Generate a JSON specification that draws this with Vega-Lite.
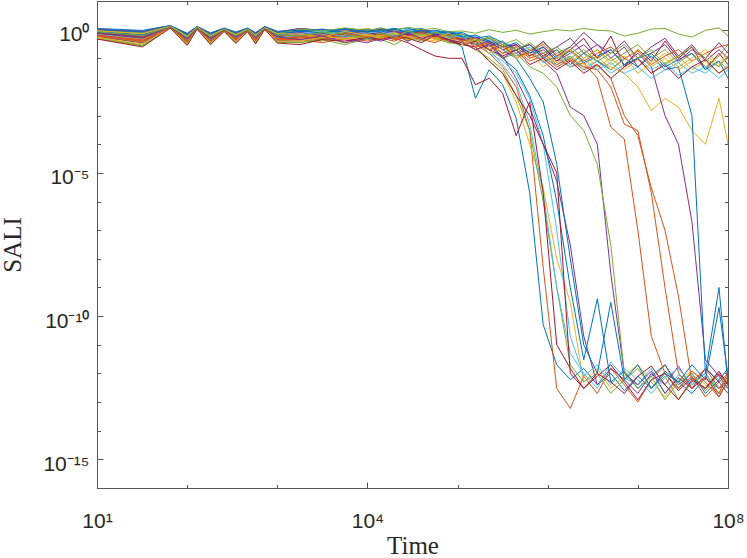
{
  "$schema": "https://vega.github.io/schema/vega-lite/v6.json",
  "description": "SALI against time for many orbits, log-log, MATLAB style.",
  "width": 631,
  "height": 487,
  "autosize": {"type": "none"},
  "padding": {"left": 97, "top": 1, "right": 19, "bottom": 70},
  "background": "white",
  "config": {
    "view": {"stroke": null},
    "axis": {"domainColor": "#555555", "tickColor": "#555555", "domainWidth": 1, "tickWidth": 1, "grid": false}
  },
  "data": {"values": [
{"s":1,"t":10,"v":1.0},{"s":1,"t":32,"v":0.85},{"s":1,"t":65,"v":1.35},{"s":1,"t":100,"v":0.68},{"s":1,"t":129,"v":1.25},{"s":1,"t":182,"v":0.7},{"s":1,"t":257,"v":1.1},{"s":1,"t":347,"v":0.75},{"s":1,"t":468,"v":1.1},{"s":1,"t":575,"v":0.72},{"s":1,"t":724,"v":1.25},{"s":1,"t":1000,"v":0.8},{"s":1,"t":1778,"v":0.95},{"s":1,"t":3162,"v":0.8},{"s":1,"t":5623,"v":1.1},{"s":1,"t":1e4,"v":0.9},{"s":1,"t":1.41e4,"v":1.15},{"s":1,"t":2e4,"v":0.8},{"s":1,"t":2.82e4,"v":1.0},{"s":1,"t":3.98e4,"v":0.65},{"s":1,"t":5.62e4,"v":0.85},{"s":1,"t":7.94e4,"v":0.5},{"s":1,"t":1.12e5,"v":0.25},{"s":1,"t":1.58e5,"v":0.004},{"s":1,"t":2.24e5,"v":0.04},{"s":1,"t":3.16e5,"v":0.012},{"s":1,"t":4.47e5,"v":0.0008},{"s":1,"t":6.31e5,"v":2e-6},{"s":1,"t":8.91e5,"v":5e-11},{"s":1,"t":1.26e6,"v":2e-12},{"s":1,"t":1.78e6,"v":6e-13},{"s":1,"t":2.51e6,"v":1.5e-12},{"s":1,"t":3.55e6,"v":4e-13},{"s":1,"t":5.01e6,"v":1e-12},{"s":1,"t":7.08e6,"v":2.5e-13},{"s":1,"t":1e7,"v":8e-13},{"s":1,"t":1.41e7,"v":3e-13},{"s":1,"t":2e7,"v":1.2e-12},{"s":1,"t":2.82e7,"v":5e-13},{"s":1,"t":3.98e7,"v":2e-13},{"s":1,"t":5.62e7,"v":7e-13},{"s":1,"t":7.94e7,"v":3e-13},{"s":1,"t":1e8,"v":5e-13},
{"s":2,"t":10,"v":0.76},{"s":2,"t":32,"v":0.55},{"s":2,"t":65,"v":1.25},{"s":2,"t":100,"v":0.48},{"s":2,"t":129,"v":1.15},{"s":2,"t":182,"v":0.5},{"s":2,"t":257,"v":0.97},{"s":2,"t":347,"v":0.55},{"s":2,"t":468,"v":0.96},{"s":2,"t":575,"v":0.52},{"s":2,"t":724,"v":1.12},{"s":2,"t":1000,"v":0.58},{"s":2,"t":1778,"v":0.6},{"s":2,"t":3162,"v":0.75},{"s":2,"t":5623,"v":0.55},{"s":2,"t":1e4,"v":0.8},{"s":2,"t":1.41e4,"v":0.7},{"s":2,"t":2e4,"v":0.95},{"s":2,"t":2.82e4,"v":0.6},{"s":2,"t":3.98e4,"v":0.85},{"s":2,"t":5.62e4,"v":0.45},{"s":2,"t":7.94e4,"v":0.7},{"s":2,"t":1.12e5,"v":0.5},{"s":2,"t":1.58e5,"v":0.3},{"s":2,"t":2.24e5,"v":0.15},{"s":2,"t":3.16e5,"v":0.05},{"s":2,"t":4.47e5,"v":0.01},{"s":2,"t":6.31e5,"v":3e-4},{"s":2,"t":8.91e5,"v":5e-9},{"s":2,"t":1.26e6,"v":3e-13},{"s":2,"t":1.78e6,"v":6e-14},{"s":2,"t":2.51e6,"v":8e-13},{"s":2,"t":3.55e6,"v":2e-13},{"s":2,"t":5.01e6,"v":1.5e-12},{"s":2,"t":7.08e6,"v":4e-13},{"s":2,"t":1e7,"v":1e-13},{"s":2,"t":1.41e7,"v":6e-13},{"s":2,"t":2e7,"v":2e-12},{"s":2,"t":2.82e7,"v":3e-13},{"s":2,"t":3.98e7,"v":8e-13},{"s":2,"t":5.62e7,"v":1.5e-13},{"s":2,"t":7.94e7,"v":5e-13},{"s":2,"t":1e8,"v":1e-12},
{"s":3,"t":10,"v":0.52},{"s":3,"t":32,"v":0.28},{"s":3,"t":65,"v":1.18},{"s":3,"t":100,"v":0.31},{"s":3,"t":129,"v":1.08},{"s":3,"t":182,"v":0.33},{"s":3,"t":257,"v":0.9},{"s":3,"t":347,"v":0.37},{"s":3,"t":468,"v":0.88},{"s":3,"t":575,"v":0.35},{"s":3,"t":724,"v":1.05},{"s":3,"t":1000,"v":0.38},{"s":3,"t":1778,"v":0.4},{"s":3,"t":3162,"v":0.5},{"s":3,"t":5623,"v":0.35},{"s":3,"t":1e4,"v":0.55},{"s":3,"t":1.41e4,"v":0.6},{"s":3,"t":2e4,"v":0.45},{"s":3,"t":2.82e4,"v":0.7},{"s":3,"t":3.98e4,"v":0.5},{"s":3,"t":5.62e4,"v":0.4},{"s":3,"t":7.94e4,"v":0.55},{"s":3,"t":1.12e5,"v":0.3},{"s":3,"t":1.58e5,"v":0.25},{"s":3,"t":2.24e5,"v":0.08},{"s":3,"t":3.16e5,"v":0.03},{"s":3,"t":4.47e5,"v":0.003},{"s":3,"t":6.31e5,"v":1e-4},{"s":3,"t":8.91e5,"v":3e-6},{"s":3,"t":1.26e6,"v":1e-8},{"s":3,"t":1.78e6,"v":3e-10},{"s":3,"t":2.51e6,"v":5e-13},{"s":3,"t":3.55e6,"v":1.5e-12},{"s":3,"t":5.01e6,"v":3e-13},{"s":3,"t":7.08e6,"v":8e-13},{"s":3,"t":1e7,"v":2e-12},{"s":3,"t":1.41e7,"v":5e-13},{"s":3,"t":2e7,"v":1.5e-13},{"s":3,"t":2.82e7,"v":6e-13},{"s":3,"t":3.98e7,"v":1.2e-12},{"s":3,"t":5.62e7,"v":4e-13},{"s":3,"t":7.94e7,"v":2e-13},{"s":3,"t":1e8,"v":7e-13},
{"s":4,"t":10,"v":0.84},{"s":4,"t":32,"v":0.65},{"s":4,"t":65,"v":1.28},{"s":4,"t":100,"v":0.54},{"s":4,"t":129,"v":1.18},{"s":4,"t":182,"v":0.56},{"s":4,"t":257,"v":1.0},{"s":4,"t":347,"v":0.61},{"s":4,"t":468,"v":1.0},{"s":4,"t":575,"v":0.58},{"s":4,"t":724,"v":1.16},{"s":4,"t":1000,"v":0.65},{"s":4,"t":1778,"v":0.9},{"s":4,"t":3162,"v":0.7},{"s":4,"t":5623,"v":0.95},{"s":4,"t":1e4,"v":0.75},{"s":4,"t":1.41e4,"v":0.85},{"s":4,"t":2e4,"v":1.1},{"s":4,"t":2.82e4,"v":0.7},{"s":4,"t":3.98e4,"v":0.9},{"s":4,"t":5.62e4,"v":0.6},{"s":4,"t":7.94e4,"v":0.75},{"s":4,"t":1.12e5,"v":0.55},{"s":4,"t":1.58e5,"v":0.35},{"s":4,"t":2.24e5,"v":0.3},{"s":4,"t":3.16e5,"v":0.12},{"s":4,"t":4.47e5,"v":0.02},{"s":4,"t":6.31e5,"v":0.002},{"s":4,"t":8.91e5,"v":1e-4},{"s":4,"t":1.26e6,"v":5e-6},{"s":4,"t":1.78e6,"v":3e-8},{"s":4,"t":2.51e6,"v":2e-11},{"s":4,"t":3.55e6,"v":4e-13},{"s":4,"t":5.01e6,"v":1.5e-12},{"s":4,"t":7.08e6,"v":6e-13},{"s":4,"t":1e7,"v":2e-13},{"s":4,"t":1.41e7,"v":1e-12},{"s":4,"t":2e7,"v":4e-13},{"s":4,"t":2.82e7,"v":1.8e-12},{"s":4,"t":3.98e7,"v":3e-13},{"s":4,"t":5.62e7,"v":8e-13},{"s":4,"t":7.94e7,"v":1.5e-13},{"s":4,"t":1e8,"v":6e-13},
{"s":5,"t":10,"v":0.6},{"s":5,"t":32,"v":0.36},{"s":5,"t":65,"v":1.2},{"s":5,"t":100,"v":0.36},{"s":5,"t":129,"v":1.1},{"s":5,"t":182,"v":0.38},{"s":5,"t":257,"v":0.92},{"s":5,"t":347,"v":0.43},{"s":5,"t":468,"v":0.9},{"s":5,"t":575,"v":0.4},{"s":5,"t":724,"v":1.07},{"s":5,"t":1000,"v":0.44},{"s":5,"t":1778,"v":0.45},{"s":5,"t":3162,"v":0.4},{"s":5,"t":5623,"v":0.6},{"s":5,"t":1e4,"v":0.5},{"s":5,"t":1.41e4,"v":0.55},{"s":5,"t":2e4,"v":0.7},{"s":5,"t":2.82e4,"v":0.4},{"s":5,"t":3.98e4,"v":0.6},{"s":5,"t":5.62e4,"v":0.5},{"s":5,"t":7.94e4,"v":0.35},{"s":5,"t":1.12e5,"v":0.4},{"s":5,"t":1.58e5,"v":0.2},{"s":5,"t":2.24e5,"v":0.1},{"s":5,"t":3.16e5,"v":0.04},{"s":5,"t":4.47e5,"v":0.005},{"s":5,"t":6.31e5,"v":3e-4},{"s":5,"t":8.91e5,"v":1e-6},{"s":5,"t":1.26e6,"v":1e-9},{"s":5,"t":1.78e6,"v":2e-12},{"s":5,"t":2.51e6,"v":5e-13},{"s":5,"t":3.55e6,"v":1e-12},{"s":5,"t":5.01e6,"v":2e-13},{"s":5,"t":7.08e6,"v":6e-13},{"s":5,"t":1e7,"v":1.5e-12},{"s":5,"t":1.41e7,"v":3e-13},{"s":5,"t":2e7,"v":8e-13},{"s":5,"t":2.82e7,"v":1.2e-13},{"s":5,"t":3.98e7,"v":5e-13},{"s":5,"t":5.62e7,"v":1e-12},{"s":5,"t":7.94e7,"v":2e-13},{"s":5,"t":1e8,"v":4e-13},
{"s":6,"t":10,"v":0.92},{"s":6,"t":32,"v":0.75},{"s":6,"t":65,"v":1.3},{"s":6,"t":100,"v":0.6},{"s":6,"t":129,"v":1.2},{"s":6,"t":182,"v":0.62},{"s":6,"t":257,"v":1.05},{"s":6,"t":347,"v":0.68},{"s":6,"t":468,"v":1.05},{"s":6,"t":575,"v":0.65},{"s":6,"t":724,"v":1.2},{"s":6,"t":1000,"v":0.72},{"s":6,"t":1778,"v":1.0},{"s":6,"t":3162,"v":0.85},{"s":6,"t":5623,"v":0.7},{"s":6,"t":1e4,"v":0.95},{"s":6,"t":1.41e4,"v":0.9},{"s":6,"t":2e4,"v":0.75},{"s":6,"t":2.82e4,"v":1.05},{"s":6,"t":3.98e4,"v":0.8},{"s":6,"t":5.62e4,"v":0.9},{"s":6,"t":7.94e4,"v":0.6},{"s":6,"t":1.12e5,"v":0.4},{"s":6,"t":1.58e5,"v":0.5},{"s":6,"t":2.24e5,"v":0.2},{"s":6,"t":3.16e5,"v":0.06},{"s":6,"t":4.47e5,"v":0.015},{"s":6,"t":6.31e5,"v":5e-4},{"s":6,"t":8.91e5,"v":2e-6},{"s":6,"t":1.26e6,"v":1e-9},{"s":6,"t":1.78e6,"v":5e-12},{"s":6,"t":2.51e6,"v":1e-12},{"s":6,"t":3.55e6,"v":3e-13},{"s":6,"t":5.01e6,"v":2.5e-12},{"s":6,"t":7.08e6,"v":7e-13},{"s":6,"t":1e7,"v":4e-13},{"s":6,"t":1.41e7,"v":1.5e-12},{"s":6,"t":2e7,"v":2e-13},{"s":6,"t":2.82e7,"v":9e-13},{"s":6,"t":3.98e7,"v":4e-13},{"s":6,"t":5.62e7,"v":1.5e-12},{"s":6,"t":7.94e7,"v":6e-13},{"s":6,"t":1e8,"v":3e-13},
{"s":7,"t":10,"v":0.68},{"s":7,"t":32,"v":0.45},{"s":7,"t":65,"v":1.22},{"s":7,"t":100,"v":0.42},{"s":7,"t":129,"v":1.12},{"s":7,"t":182,"v":0.44},{"s":7,"t":257,"v":0.94},{"s":7,"t":347,"v":0.49},{"s":7,"t":468,"v":0.93},{"s":7,"t":575,"v":0.46},{"s":7,"t":724,"v":1.1},{"s":7,"t":1000,"v":0.51},{"s":7,"t":1778,"v":0.65},{"s":7,"t":3162,"v":0.5},{"s":7,"t":5623,"v":0.8},{"s":7,"t":1e4,"v":0.6},{"s":7,"t":1.41e4,"v":0.7},{"s":7,"t":2e4,"v":0.5},{"s":7,"t":2.82e4,"v":0.35},{"s":7,"t":3.98e4,"v":0.2},{"s":7,"t":5.62e4,"v":0.12},{"s":7,"t":7.94e4,"v":0.1},{"s":7,"t":1.12e5,"v":0.1},{"s":7,"t":1.58e5,"v":0.012},{"s":7,"t":2.24e5,"v":0.02},{"s":7,"t":3.16e5,"v":0.006},{"s":7,"t":4.47e5,"v":2e-4},{"s":7,"t":6.31e5,"v":0.003},{"s":7,"t":8.91e5,"v":2e-6},{"s":7,"t":1.26e6,"v":1e-11},{"s":7,"t":1.78e6,"v":1.5e-12},{"s":7,"t":2.51e6,"v":3e-13},{"s":7,"t":3.55e6,"v":8e-13},{"s":7,"t":5.01e6,"v":2e-12},{"s":7,"t":7.08e6,"v":5e-13},{"s":7,"t":1e7,"v":1.2e-13},{"s":7,"t":1.41e7,"v":6e-13},{"s":7,"t":2e7,"v":1e-12},{"s":7,"t":2.82e7,"v":2.5e-13},{"s":7,"t":3.98e7,"v":7e-13},{"s":7,"t":5.62e7,"v":3e-13},{"s":7,"t":7.94e7,"v":1.2e-12},{"s":7,"t":1e8,"v":4e-13},
{"s":8,"t":10,"v":0.95},{"s":8,"t":32,"v":0.81},{"s":8,"t":65,"v":1.32},{"s":8,"t":100,"v":0.65},{"s":8,"t":129,"v":1.23},{"s":8,"t":182,"v":0.67},{"s":8,"t":257,"v":1.08},{"s":8,"t":347,"v":0.71},{"s":8,"t":468,"v":1.08},{"s":8,"t":575,"v":0.68},{"s":8,"t":724,"v":1.23},{"s":8,"t":1000,"v":0.76},{"s":8,"t":1778,"v":1.1},{"s":8,"t":3162,"v":0.9},{"s":8,"t":5623,"v":0.8},{"s":8,"t":1e4,"v":1.05},{"s":8,"t":1.41e4,"v":0.95},{"s":8,"t":2e4,"v":1.1},{"s":8,"t":2.82e4,"v":0.85},{"s":8,"t":3.98e4,"v":0.7},{"s":8,"t":5.62e4,"v":0.95},{"s":8,"t":7.94e4,"v":0.8},{"s":8,"t":1.12e5,"v":0.6},{"s":8,"t":1.58e5,"v":0.3},{"s":8,"t":2.24e5,"v":0.35},{"s":8,"t":3.16e5,"v":0.1},{"s":8,"t":4.47e5,"v":0.04},{"s":8,"t":6.31e5,"v":0.005},{"s":8,"t":8.91e5,"v":2e-4},{"s":8,"t":1.26e6,"v":1e-6},{"s":8,"t":1.78e6,"v":1e-9},{"s":8,"t":2.51e6,"v":3e-12},{"s":8,"t":3.55e6,"v":4e-10},{"s":8,"t":5.01e6,"v":5e-13},{"s":8,"t":7.08e6,"v":1.2e-12},{"s":8,"t":1e7,"v":3e-13},{"s":8,"t":1.41e7,"v":8e-13},{"s":8,"t":2e7,"v":2e-12},{"s":8,"t":2.82e7,"v":4e-13},{"s":8,"t":3.98e7,"v":1e-12},{"s":8,"t":5.62e7,"v":2e-13},{"s":8,"t":7.94e7,"v":6e-13},{"s":8,"t":1e8,"v":1.5e-12},
{"s":9,"t":10,"v":0.65},{"s":9,"t":32,"v":0.43},{"s":9,"t":65,"v":1.2},{"s":9,"t":100,"v":0.4},{"s":9,"t":129,"v":1.1},{"s":9,"t":182,"v":0.42},{"s":9,"t":257,"v":0.92},{"s":9,"t":347,"v":0.47},{"s":9,"t":468,"v":0.91},{"s":9,"t":575,"v":0.44},{"s":9,"t":724,"v":1.08},{"s":9,"t":1000,"v":0.48},{"s":9,"t":1778,"v":0.55},{"s":9,"t":3162,"v":0.7},{"s":9,"t":5623,"v":0.5},{"s":9,"t":1e4,"v":0.65},{"s":9,"t":1.41e4,"v":0.8},{"s":9,"t":2e4,"v":0.6},{"s":9,"t":2.82e4,"v":0.9},{"s":9,"t":3.98e4,"v":0.55},{"s":9,"t":5.62e4,"v":0.7},{"s":9,"t":7.94e4,"v":0.5},{"s":9,"t":1.12e5,"v":0.45},{"s":9,"t":1.58e5,"v":0.3},{"s":9,"t":2.24e5,"v":0.2},{"s":9,"t":3.16e5,"v":0.25},{"s":9,"t":4.47e5,"v":0.12},{"s":9,"t":6.31e5,"v":0.15},{"s":9,"t":8.91e5,"v":0.08},{"s":9,"t":1.26e6,"v":0.1},{"s":9,"t":1.78e6,"v":0.05},{"s":9,"t":2.51e6,"v":0.07},{"s":9,"t":3.55e6,"v":0.02},{"s":9,"t":5.01e6,"v":4e-4},{"s":9,"t":7.08e6,"v":1.5e-4},{"s":9,"t":1e7,"v":1e-7},{"s":9,"t":1.41e7,"v":2e-11},{"s":9,"t":2e7,"v":1e-12},{"s":9,"t":2.82e7,"v":3e-13},{"s":9,"t":3.98e7,"v":1.2e-12},{"s":9,"t":5.62e7,"v":5e-13},{"s":9,"t":7.94e7,"v":1.5e-13},{"s":9,"t":1e8,"v":6e-13},
{"s":10,"t":10,"v":0.87},{"s":10,"t":32,"v":0.71},{"s":10,"t":65,"v":1.27},{"s":10,"t":100,"v":0.57},{"s":10,"t":129,"v":1.18},{"s":10,"t":182,"v":0.59},{"s":10,"t":257,"v":1.03},{"s":10,"t":347,"v":0.65},{"s":10,"t":468,"v":1.03},{"s":10,"t":575,"v":0.62},{"s":10,"t":724,"v":1.18},{"s":10,"t":1000,"v":0.68},{"s":10,"t":1778,"v":1.0},{"s":10,"t":3162,"v":0.8},{"s":10,"t":5623,"v":0.9},{"s":10,"t":1e4,"v":1.1},{"s":10,"t":1.41e4,"v":0.85},{"s":10,"t":2e4,"v":1.0},{"s":10,"t":2.82e4,"v":0.75},{"s":10,"t":3.98e4,"v":0.95},{"s":10,"t":5.62e4,"v":0.8},{"s":10,"t":7.94e4,"v":0.6},{"s":10,"t":1.12e5,"v":0.55},{"s":10,"t":1.58e5,"v":0.5},{"s":10,"t":2.24e5,"v":0.35},{"s":10,"t":3.16e5,"v":0.4},{"s":10,"t":4.47e5,"v":0.2},{"s":10,"t":6.31e5,"v":0.3},{"s":10,"t":8.91e5,"v":0.12},{"s":10,"t":1.26e6,"v":0.2},{"s":10,"t":1.78e6,"v":0.08},{"s":10,"t":2.51e6,"v":0.15},{"s":10,"t":3.55e6,"v":0.05},{"s":10,"t":5.01e6,"v":0.1},{"s":10,"t":7.08e6,"v":0.04},{"s":10,"t":1e7,"v":0.09},{"s":10,"t":1.41e7,"v":0.03},{"s":10,"t":2e7,"v":0.07},{"s":10,"t":2.82e7,"v":0.12},{"s":10,"t":3.98e7,"v":0.04},{"s":10,"t":5.62e7,"v":0.08},{"s":10,"t":7.94e7,"v":0.03},{"s":10,"t":1e8,"v":0.06},
{"s":11,"t":10,"v":0.57},{"s":11,"t":32,"v":0.34},{"s":11,"t":65,"v":1.18},{"s":11,"t":100,"v":0.34},{"s":11,"t":129,"v":1.08},{"s":11,"t":182,"v":0.36},{"s":11,"t":257,"v":0.9},{"s":11,"t":347,"v":0.41},{"s":11,"t":468,"v":0.88},{"s":11,"t":575,"v":0.38},{"s":11,"t":724,"v":1.05},{"s":11,"t":1000,"v":0.42},{"s":11,"t":1778,"v":0.4},{"s":11,"t":3162,"v":0.55},{"s":11,"t":5623,"v":0.45},{"s":11,"t":1e4,"v":0.35},{"s":11,"t":1.41e4,"v":0.5},{"s":11,"t":2e4,"v":0.65},{"s":11,"t":2.82e4,"v":0.4},{"s":11,"t":3.98e4,"v":0.75},{"s":11,"t":5.62e4,"v":0.55},{"s":11,"t":7.94e4,"v":0.45},{"s":11,"t":1.12e5,"v":0.6},{"s":11,"t":1.58e5,"v":0.35},{"s":11,"t":2.24e5,"v":0.25},{"s":11,"t":3.16e5,"v":0.4},{"s":11,"t":4.47e5,"v":0.15},{"s":11,"t":6.31e5,"v":0.2},{"s":11,"t":8.91e5,"v":0.08},{"s":11,"t":1.26e6,"v":0.03},{"s":11,"t":1.78e6,"v":0.002},{"s":11,"t":2.51e6,"v":0.001},{"s":11,"t":3.55e6,"v":1e-4},{"s":11,"t":5.01e6,"v":3e-9},{"s":11,"t":7.08e6,"v":1e-12},{"s":11,"t":1e7,"v":4e-13},{"s":11,"t":1.41e7,"v":1.2e-12},{"s":11,"t":2e7,"v":2e-13},{"s":11,"t":2.82e7,"v":7e-13},{"s":11,"t":3.98e7,"v":3e-13},{"s":11,"t":5.62e7,"v":1.5e-12},{"s":11,"t":7.94e7,"v":5e-13},{"s":11,"t":1e8,"v":2e-13},
{"s":12,"t":10,"v":0.49},{"s":12,"t":32,"v":0.27},{"s":12,"t":65,"v":1.16},{"s":12,"t":100,"v":0.29},{"s":12,"t":129,"v":1.06},{"s":12,"t":182,"v":0.31},{"s":12,"t":257,"v":0.88},{"s":12,"t":347,"v":0.35},{"s":12,"t":468,"v":0.86},{"s":12,"t":575,"v":0.33},{"s":12,"t":724,"v":1.03},{"s":12,"t":1000,"v":0.36},{"s":12,"t":1778,"v":0.35},{"s":12,"t":3162,"v":0.45},{"s":12,"t":5623,"v":0.3},{"s":12,"t":1e4,"v":0.5},{"s":12,"t":1.41e4,"v":0.45},{"s":12,"t":2e4,"v":0.3},{"s":12,"t":2.82e4,"v":0.55},{"s":12,"t":3.98e4,"v":0.4},{"s":12,"t":5.62e4,"v":0.6},{"s":12,"t":7.94e4,"v":0.35},{"s":12,"t":1.12e5,"v":0.3},{"s":12,"t":1.58e5,"v":0.4},{"s":12,"t":2.24e5,"v":0.2},{"s":12,"t":3.16e5,"v":0.1},{"s":12,"t":4.47e5,"v":0.15},{"s":12,"t":6.31e5,"v":0.05},{"s":12,"t":8.91e5,"v":0.03},{"s":12,"t":1.26e6,"v":0.01},{"s":12,"t":1.78e6,"v":0.001},{"s":12,"t":2.51e6,"v":3e-4},{"s":12,"t":3.55e6,"v":2e-5},{"s":12,"t":5.01e6,"v":3e-8},{"s":12,"t":7.08e6,"v":1e-12},{"s":12,"t":1e7,"v":3e-13},{"s":12,"t":1.41e7,"v":8e-13},{"s":12,"t":2e7,"v":1.2e-13},{"s":12,"t":2.82e7,"v":5e-13},{"s":12,"t":3.98e7,"v":1e-12},{"s":12,"t":5.62e7,"v":2.5e-13},{"s":12,"t":7.94e7,"v":9e-13},{"s":12,"t":1e8,"v":3e-13},
{"s":13,"t":10,"v":0.8},{"s":13,"t":32,"v":0.62},{"s":13,"t":65,"v":1.25},{"s":13,"t":100,"v":0.51},{"s":13,"t":129,"v":1.16},{"s":13,"t":182,"v":0.53},{"s":13,"t":257,"v":0.98},{"s":13,"t":347,"v":0.58},{"s":13,"t":468,"v":0.98},{"s":13,"t":575,"v":0.55},{"s":13,"t":724,"v":1.14},{"s":13,"t":1000,"v":0.62},{"s":13,"t":1778,"v":0.8},{"s":13,"t":3162,"v":0.65},{"s":13,"t":5623,"v":0.9},{"s":13,"t":1e4,"v":0.7},{"s":13,"t":1.41e4,"v":0.75},{"s":13,"t":2e4,"v":0.9},{"s":13,"t":2.82e4,"v":0.6},{"s":13,"t":3.98e4,"v":0.8},{"s":13,"t":5.62e4,"v":0.7},{"s":13,"t":7.94e4,"v":0.5},{"s":13,"t":1.12e5,"v":0.35},{"s":13,"t":1.58e5,"v":0.4},{"s":13,"t":2.24e5,"v":0.15},{"s":13,"t":3.16e5,"v":0.08},{"s":13,"t":4.47e5,"v":0.03},{"s":13,"t":6.31e5,"v":0.004},{"s":13,"t":8.91e5,"v":1e-4},{"s":13,"t":1.26e6,"v":1e-7},{"s":13,"t":1.78e6,"v":2e-11},{"s":13,"t":2.51e6,"v":8e-13},{"s":13,"t":3.55e6,"v":2e-12},{"s":13,"t":5.01e6,"v":4e-13},{"s":13,"t":7.08e6,"v":1.5e-12},{"s":13,"t":1e7,"v":6e-13},{"s":13,"t":1.41e7,"v":2e-13},{"s":13,"t":2e7,"v":7e-13},{"s":13,"t":2.82e7,"v":1.5e-12},{"s":13,"t":3.98e7,"v":4e-13},{"s":13,"t":5.62e7,"v":1e-12},{"s":13,"t":7.94e7,"v":3e-13},{"s":13,"t":1e8,"v":8e-13},
{"s":14,"t":10,"v":0.72},{"s":14,"t":32,"v":0.52},{"s":14,"t":65,"v":1.23},{"s":14,"t":100,"v":0.46},{"s":14,"t":129,"v":1.13},{"s":14,"t":182,"v":0.48},{"s":14,"t":257,"v":0.95},{"s":14,"t":347,"v":0.52},{"s":14,"t":468,"v":0.94},{"s":14,"t":575,"v":0.49},{"s":14,"t":724,"v":1.1},{"s":14,"t":1000,"v":0.55},{"s":14,"t":1778,"v":0.7},{"s":14,"t":3162,"v":0.55},{"s":14,"t":5623,"v":0.6},{"s":14,"t":1e4,"v":0.8},{"s":14,"t":1.41e4,"v":0.6},{"s":14,"t":2e4,"v":0.8},{"s":14,"t":2.82e4,"v":0.65},{"s":14,"t":3.98e4,"v":0.45},{"s":14,"t":5.62e4,"v":0.7},{"s":14,"t":7.94e4,"v":0.4},{"s":14,"t":1.12e5,"v":0.3},{"s":14,"t":1.58e5,"v":0.25},{"s":14,"t":2.24e5,"v":0.08},{"s":14,"t":3.16e5,"v":0.03},{"s":14,"t":4.47e5,"v":0.005},{"s":14,"t":6.31e5,"v":0.001},{"s":14,"t":8.91e5,"v":1e-4},{"s":14,"t":1.26e6,"v":1e-5},{"s":14,"t":1.78e6,"v":1e-12},{"s":14,"t":2.51e6,"v":3e-13},{"s":14,"t":3.55e6,"v":1e-12},{"s":14,"t":5.01e6,"v":5e-13},{"s":14,"t":7.08e6,"v":2e-13},{"s":14,"t":1e7,"v":8e-13},{"s":14,"t":1.41e7,"v":1.8e-12},{"s":14,"t":2e7,"v":4e-13},{"s":14,"t":2.82e7,"v":1.2e-13},{"s":14,"t":3.98e7,"v":6e-13},{"s":14,"t":5.62e7,"v":3e-13},{"s":14,"t":7.94e7,"v":1e-12},{"s":14,"t":1e8,"v":4e-13},
{"s":15,"t":10,"v":0.97},{"s":15,"t":32,"v":0.79},{"s":15,"t":65,"v":1.33},{"s":15,"t":100,"v":0.63},{"s":15,"t":129,"v":1.22},{"s":15,"t":182,"v":0.65},{"s":15,"t":257,"v":1.07},{"s":15,"t":347,"v":0.71},{"s":15,"t":468,"v":1.07},{"s":15,"t":575,"v":0.68},{"s":15,"t":724,"v":1.22},{"s":15,"t":1000,"v":0.76},{"s":15,"t":1778,"v":0.85},{"s":15,"t":3162,"v":1.0},{"s":15,"t":5623,"v":0.75},{"s":15,"t":1e4,"v":0.9},{"s":15,"t":1.41e4,"v":1.0},{"s":15,"t":2e4,"v":0.8},{"s":15,"t":2.82e4,"v":0.95},{"s":15,"t":3.98e4,"v":1.1},{"s":15,"t":5.62e4,"v":0.75},{"s":15,"t":7.94e4,"v":0.85},{"s":15,"t":1.12e5,"v":0.7},{"s":15,"t":1.58e5,"v":0.5},{"s":15,"t":2.24e5,"v":0.4},{"s":15,"t":3.16e5,"v":0.2},{"s":15,"t":4.47e5,"v":0.1},{"s":15,"t":6.31e5,"v":0.02},{"s":15,"t":8.91e5,"v":0.003},{"s":15,"t":1.26e6,"v":2e-5},{"s":15,"t":1.78e6,"v":1e-8},{"s":15,"t":2.51e6,"v":1e-11},{"s":15,"t":3.55e6,"v":1e-12},{"s":15,"t":5.01e6,"v":3e-10},{"s":15,"t":7.08e6,"v":6e-13},{"s":15,"t":1e7,"v":2e-12},{"s":15,"t":1.41e7,"v":3e-13},{"s":15,"t":2e7,"v":1e-12},{"s":15,"t":2.82e7,"v":5e-13},{"s":15,"t":3.98e7,"v":2e-12},{"s":15,"t":5.62e7,"v":6e-13},{"s":15,"t":7.94e7,"v":2e-10},{"s":15,"t":1e8,"v":8e-13},
{"s":16,"t":10,"v":0.63},{"s":16,"t":32,"v":0.38},{"s":16,"t":65,"v":1.22},{"s":16,"t":100,"v":0.38},{"s":16,"t":129,"v":1.12},{"s":16,"t":182,"v":0.4},{"s":16,"t":257,"v":0.94},{"s":16,"t":347,"v":0.45},{"s":16,"t":468,"v":0.92},{"s":16,"t":575,"v":0.42},{"s":16,"t":724,"v":1.09},{"s":16,"t":1000,"v":0.46},{"s":16,"t":1778,"v":0.45},{"s":16,"t":3162,"v":0.35},{"s":16,"t":5623,"v":0.5},{"s":16,"t":1e4,"v":0.4},{"s":16,"t":1.41e4,"v":0.5},{"s":16,"t":2e4,"v":0.4},{"s":16,"t":2.82e4,"v":0.6},{"s":16,"t":3.98e4,"v":0.45},{"s":16,"t":5.62e4,"v":0.35},{"s":16,"t":7.94e4,"v":0.55},{"s":16,"t":1.12e5,"v":0.4},{"s":16,"t":1.58e5,"v":0.2},{"s":16,"t":2.24e5,"v":0.3},{"s":16,"t":3.16e5,"v":0.15},{"s":16,"t":4.47e5,"v":0.2},{"s":16,"t":6.31e5,"v":0.08},{"s":16,"t":8.91e5,"v":0.12},{"s":16,"t":1.26e6,"v":0.05},{"s":16,"t":1.78e6,"v":0.09},{"s":16,"t":2.51e6,"v":0.04},{"s":16,"t":3.55e6,"v":0.06},{"s":16,"t":5.01e6,"v":0.02},{"s":16,"t":7.08e6,"v":0.001},{"s":16,"t":1e7,"v":2e-4},{"s":16,"t":1.41e7,"v":3e-6},{"s":16,"t":2e7,"v":1e-7},{"s":16,"t":2.82e7,"v":5e-10},{"s":16,"t":3.98e7,"v":5e-13},{"s":16,"t":5.62e7,"v":1.5e-12},{"s":16,"t":7.94e7,"v":3e-13},{"s":16,"t":1e8,"v":8e-13},
{"s":17,"t":10,"v":0.71},{"s":17,"t":32,"v":0.47},{"s":17,"t":65,"v":1.24},{"s":17,"t":100,"v":0.44},{"s":17,"t":129,"v":1.14},{"s":17,"t":182,"v":0.46},{"s":17,"t":257,"v":0.96},{"s":17,"t":347,"v":0.51},{"s":17,"t":468,"v":0.95},{"s":17,"t":575,"v":0.48},{"s":17,"t":724,"v":1.12},{"s":17,"t":1000,"v":0.54},{"s":17,"t":1778,"v":0.5},{"s":17,"t":3162,"v":0.65},{"s":17,"t":5623,"v":0.45},{"s":17,"t":1e4,"v":0.6},{"s":17,"t":1.41e4,"v":0.65},{"s":17,"t":2e4,"v":0.5},{"s":17,"t":2.82e4,"v":0.8},{"s":17,"t":3.98e4,"v":0.6},{"s":17,"t":5.62e4,"v":0.45},{"s":17,"t":7.94e4,"v":0.65},{"s":17,"t":1.12e5,"v":0.5},{"s":17,"t":1.58e5,"v":0.35},{"s":17,"t":2.24e5,"v":0.4},{"s":17,"t":3.16e5,"v":0.2},{"s":17,"t":4.47e5,"v":0.25},{"s":17,"t":6.31e5,"v":0.1},{"s":17,"t":8.91e5,"v":0.15},{"s":17,"t":1.26e6,"v":0.07},{"s":17,"t":1.78e6,"v":0.12},{"s":17,"t":2.51e6,"v":0.05},{"s":17,"t":3.55e6,"v":0.08},{"s":17,"t":5.01e6,"v":0.05},{"s":17,"t":7.08e6,"v":0.03},{"s":17,"t":1e7,"v":0.01},{"s":17,"t":1.41e7,"v":0.0015},{"s":17,"t":2e7,"v":0.004},{"s":17,"t":2.82e7,"v":0.002},{"s":17,"t":3.98e7,"v":3e-4},{"s":17,"t":5.62e7,"v":1e-4},{"s":17,"t":7.94e7,"v":0.004},{"s":17,"t":1e8,"v":1e-4},
{"s":18,"t":10,"v":1.05},{"s":18,"t":32,"v":0.89},{"s":18,"t":65,"v":1.38},{"s":18,"t":100,"v":0.71},{"s":18,"t":129,"v":1.28},{"s":18,"t":182,"v":0.74},{"s":18,"t":257,"v":1.12},{"s":18,"t":347,"v":0.79},{"s":18,"t":468,"v":1.12},{"s":18,"t":575,"v":0.76},{"s":18,"t":724,"v":1.28},{"s":18,"t":1000,"v":0.84},{"s":18,"t":1778,"v":1.1},{"s":18,"t":3162,"v":0.95},{"s":18,"t":5623,"v":1.0},{"s":18,"t":1e4,"v":0.85},{"s":18,"t":1.41e4,"v":1.05},{"s":18,"t":2e4,"v":0.9},{"s":18,"t":2.82e4,"v":0.75},{"s":18,"t":3.98e4,"v":1.0},{"s":18,"t":5.62e4,"v":0.85},{"s":18,"t":7.94e4,"v":0.7},{"s":18,"t":1.12e5,"v":0.6},{"s":18,"t":1.58e5,"v":0.4},{"s":18,"t":2.24e5,"v":0.5},{"s":18,"t":3.16e5,"v":0.25},{"s":18,"t":4.47e5,"v":0.3},{"s":18,"t":6.31e5,"v":0.12},{"s":18,"t":8.91e5,"v":0.2},{"s":18,"t":1.26e6,"v":0.08},{"s":18,"t":1.78e6,"v":0.15},{"s":18,"t":2.51e6,"v":0.3},{"s":18,"t":3.55e6,"v":0.1},{"s":18,"t":5.01e6,"v":0.2},{"s":18,"t":7.08e6,"v":0.06},{"s":18,"t":1e7,"v":0.15},{"s":18,"t":1.41e7,"v":0.05},{"s":18,"t":2e7,"v":0.001},{"s":18,"t":2.82e7,"v":1e-4},{"s":18,"t":3.98e7,"v":2e-7},{"s":18,"t":5.62e7,"v":3e-12},{"s":18,"t":7.94e7,"v":8e-13},{"s":18,"t":1e8,"v":3e-13},
{"s":19,"t":10,"v":0.55},{"s":19,"t":32,"v":0.29},{"s":19,"t":65,"v":1.2},{"s":19,"t":100,"v":0.33},{"s":19,"t":129,"v":1.1},{"s":19,"t":182,"v":0.35},{"s":19,"t":257,"v":0.92},{"s":19,"t":347,"v":0.39},{"s":19,"t":468,"v":0.9},{"s":19,"t":575,"v":0.37},{"s":19,"t":724,"v":1.07},{"s":19,"t":1000,"v":0.4},{"s":19,"t":1778,"v":0.35},{"s":19,"t":3162,"v":0.5},{"s":19,"t":5623,"v":0.6},{"s":19,"t":1e4,"v":0.45},{"s":19,"t":1.41e4,"v":0.55},{"s":19,"t":2e4,"v":0.7},{"s":19,"t":2.82e4,"v":0.45},{"s":19,"t":3.98e4,"v":0.6},{"s":19,"t":5.62e4,"v":0.8},{"s":19,"t":7.94e4,"v":0.5},{"s":19,"t":1.12e5,"v":0.6},{"s":19,"t":1.58e5,"v":0.4},{"s":19,"t":2.24e5,"v":0.5},{"s":19,"t":3.16e5,"v":0.3},{"s":19,"t":4.47e5,"v":0.45},{"s":19,"t":6.31e5,"v":0.2},{"s":19,"t":8.91e5,"v":0.35},{"s":19,"t":1.26e6,"v":0.15},{"s":19,"t":1.78e6,"v":0.25},{"s":19,"t":2.51e6,"v":0.1},{"s":19,"t":3.55e6,"v":0.2},{"s":19,"t":5.01e6,"v":0.08},{"s":19,"t":7.08e6,"v":0.15},{"s":19,"t":1e7,"v":0.3},{"s":19,"t":1.41e7,"v":0.1},{"s":19,"t":2e7,"v":0.2},{"s":19,"t":2.82e7,"v":0.07},{"s":19,"t":3.98e7,"v":0.15},{"s":19,"t":5.62e7,"v":0.05},{"s":19,"t":7.94e7,"v":0.12},{"s":19,"t":1e8,"v":0.3},
{"s":20,"t":10,"v":0.88},{"s":20,"t":32,"v":0.68},{"s":20,"t":65,"v":1.31},{"s":20,"t":100,"v":0.57},{"s":20,"t":129,"v":1.2},{"s":20,"t":182,"v":0.59},{"s":20,"t":257,"v":1.02},{"s":20,"t":347,"v":0.64},{"s":20,"t":468,"v":1.02},{"s":20,"t":575,"v":0.61},{"s":20,"t":724,"v":1.18},{"s":20,"t":1000,"v":0.68},{"s":20,"t":1778,"v":0.75},{"s":20,"t":3162,"v":0.9},{"s":20,"t":5623,"v":0.65},{"s":20,"t":1e4,"v":0.85},{"s":20,"t":1.41e4,"v":0.7},{"s":20,"t":2e4,"v":0.85},{"s":20,"t":2.82e4,"v":1.0},{"s":20,"t":3.98e4,"v":0.75},{"s":20,"t":5.62e4,"v":0.6},{"s":20,"t":7.94e4,"v":0.8},{"s":20,"t":1.12e5,"v":0.5},{"s":20,"t":1.58e5,"v":0.6},{"s":20,"t":2.24e5,"v":0.3},{"s":20,"t":3.16e5,"v":0.4},{"s":20,"t":4.47e5,"v":0.15},{"s":20,"t":6.31e5,"v":0.25},{"s":20,"t":8.91e5,"v":0.1},{"s":20,"t":1.26e6,"v":0.06},{"s":20,"t":1.78e6,"v":0.12},{"s":20,"t":2.51e6,"v":0.04},{"s":20,"t":3.55e6,"v":0.08},{"s":20,"t":5.01e6,"v":0.03},{"s":20,"t":7.08e6,"v":0.06},{"s":20,"t":1e7,"v":0.1},{"s":20,"t":1.41e7,"v":0.04},{"s":20,"t":2e7,"v":0.07},{"s":20,"t":2.82e7,"v":0.025},{"s":20,"t":3.98e7,"v":0.05},{"s":20,"t":5.62e7,"v":0.03},{"s":20,"t":7.94e7,"v":0.08},{"s":20,"t":1e8,"v":0.04},
{"s":21,"t":10,"v":0.8},{"s":21,"t":32,"v":0.58},{"s":21,"t":65,"v":1.28},{"s":21,"t":100,"v":0.5},{"s":21,"t":129,"v":1.17},{"s":21,"t":182,"v":0.53},{"s":21,"t":257,"v":0.99},{"s":21,"t":347,"v":0.58},{"s":21,"t":468,"v":0.98},{"s":21,"t":575,"v":0.55},{"s":21,"t":724,"v":1.14},{"s":21,"t":1000,"v":0.61},{"s":21,"t":1778,"v":0.6},{"s":21,"t":3162,"v":0.75},{"s":21,"t":5623,"v":0.55},{"s":21,"t":1e4,"v":0.7},{"s":21,"t":1.41e4,"v":0.8},{"s":21,"t":2e4,"v":0.6},{"s":21,"t":2.82e4,"v":0.7},{"s":21,"t":3.98e4,"v":0.9},{"s":21,"t":5.62e4,"v":0.55},{"s":21,"t":7.94e4,"v":0.65},{"s":21,"t":1.12e5,"v":0.45},{"s":21,"t":1.58e5,"v":0.3},{"s":21,"t":2.24e5,"v":0.4},{"s":21,"t":3.16e5,"v":0.2},{"s":21,"t":4.47e5,"v":0.3},{"s":21,"t":6.31e5,"v":0.12},{"s":21,"t":8.91e5,"v":0.25},{"s":21,"t":1.26e6,"v":0.08},{"s":21,"t":1.78e6,"v":0.2},{"s":21,"t":2.51e6,"v":0.5},{"s":21,"t":3.55e6,"v":0.1},{"s":21,"t":5.01e6,"v":0.6},{"s":21,"t":7.08e6,"v":0.05},{"s":21,"t":1e7,"v":0.2},{"s":21,"t":1.41e7,"v":0.08},{"s":21,"t":2e7,"v":0.4},{"s":21,"t":2.82e7,"v":0.1},{"s":21,"t":3.98e7,"v":0.25},{"s":21,"t":5.62e7,"v":0.04},{"s":21,"t":7.94e7,"v":0.15},{"s":21,"t":1e8,"v":0.06},
{"s":22,"t":10,"v":0.83},{"s":22,"t":32,"v":0.68},{"s":22,"t":65,"v":1.26},{"s":22,"t":100,"v":0.54},{"s":22,"t":129,"v":1.16},{"s":22,"t":182,"v":0.56},{"s":22,"t":257,"v":1.02},{"s":22,"t":347,"v":0.61},{"s":22,"t":468,"v":1.02},{"s":22,"t":575,"v":0.59},{"s":22,"t":724,"v":1.16},{"s":22,"t":1000,"v":0.65},{"s":22,"t":1778,"v":0.9},{"s":22,"t":3162,"v":1.05},{"s":22,"t":5623,"v":0.8},{"s":22,"t":1e4,"v":1.0},{"s":22,"t":1.41e4,"v":0.85},{"s":22,"t":2e4,"v":1.0},{"s":22,"t":2.82e4,"v":1.15},{"s":22,"t":3.98e4,"v":0.8},{"s":22,"t":5.62e4,"v":0.95},{"s":22,"t":7.94e4,"v":0.7},{"s":22,"t":1.12e5,"v":0.8},{"s":22,"t":1.58e5,"v":0.5},{"s":22,"t":2.24e5,"v":0.6},{"s":22,"t":3.16e5,"v":0.35},{"s":22,"t":4.47e5,"v":0.2},{"s":22,"t":6.31e5,"v":0.3},{"s":22,"t":8.91e5,"v":0.1},{"s":22,"t":1.26e6,"v":0.2},{"s":22,"t":1.78e6,"v":0.06},{"s":22,"t":2.51e6,"v":0.15},{"s":22,"t":3.55e6,"v":0.08},{"s":22,"t":5.01e6,"v":0.04},{"s":22,"t":7.08e6,"v":0.1},{"s":22,"t":1e7,"v":0.05},{"s":22,"t":1.41e7,"v":0.12},{"s":22,"t":2e7,"v":0.04},{"s":22,"t":2.82e7,"v":0.05},{"s":22,"t":3.98e7,"v":0.001},{"s":22,"t":5.62e7,"v":1e-12},{"s":22,"t":7.94e7,"v":1e-9},{"s":22,"t":1e8,"v":4e-13},
{"s":23,"t":10,"v":0.61},{"s":23,"t":32,"v":0.41},{"s":23,"t":65,"v":1.18},{"s":23,"t":100,"v":0.38},{"s":23,"t":129,"v":1.09},{"s":23,"t":182,"v":0.4},{"s":23,"t":257,"v":0.91},{"s":23,"t":347,"v":0.44},{"s":23,"t":468,"v":0.9},{"s":23,"t":575,"v":0.41},{"s":23,"t":724,"v":1.07},{"s":23,"t":1000,"v":0.46},{"s":23,"t":1778,"v":0.55},{"s":23,"t":3162,"v":0.45},{"s":23,"t":5623,"v":0.7},{"s":23,"t":1e4,"v":0.5},{"s":23,"t":1.41e4,"v":0.65},{"s":23,"t":2e4,"v":0.45},{"s":23,"t":2.82e4,"v":0.55},{"s":23,"t":3.98e4,"v":0.75},{"s":23,"t":5.62e4,"v":0.6},{"s":23,"t":7.94e4,"v":0.4},{"s":23,"t":1.12e5,"v":0.5},{"s":23,"t":1.58e5,"v":0.25},{"s":23,"t":2.24e5,"v":0.35},{"s":23,"t":3.16e5,"v":0.15},{"s":23,"t":4.47e5,"v":0.25},{"s":23,"t":6.31e5,"v":0.1},{"s":23,"t":8.91e5,"v":0.15},{"s":23,"t":1.26e6,"v":0.06},{"s":23,"t":1.78e6,"v":0.1},{"s":23,"t":2.51e6,"v":0.05},{"s":23,"t":3.55e6,"v":0.04},{"s":23,"t":5.01e6,"v":0.01},{"s":23,"t":7.08e6,"v":5e-4},{"s":23,"t":1e7,"v":3e-4},{"s":23,"t":1.41e7,"v":2e-6},{"s":23,"t":2e7,"v":1e-9},{"s":23,"t":2.82e7,"v":1e-12},{"s":23,"t":3.98e7,"v":3e-13},{"s":23,"t":5.62e7,"v":7e-13},{"s":23,"t":7.94e7,"v":2e-13},{"s":23,"t":1e8,"v":1.2e-12},
{"s":24,"t":10,"v":0.54},{"s":24,"t":32,"v":0.32},{"s":24,"t":65,"v":1.16},{"s":24,"t":100,"v":0.32},{"s":24,"t":129,"v":1.07},{"s":24,"t":182,"v":0.34},{"s":24,"t":257,"v":0.89},{"s":24,"t":347,"v":0.39},{"s":24,"t":468,"v":0.87},{"s":24,"t":575,"v":0.36},{"s":24,"t":724,"v":1.04},{"s":24,"t":1000,"v":0.4},{"s":24,"t":1778,"v":0.4},{"s":24,"t":3162,"v":0.55},{"s":24,"t":5623,"v":0.5},{"s":24,"t":1e4,"v":0.65},{"s":24,"t":1.41e4,"v":0.5},{"s":24,"t":2e4,"v":0.7},{"s":24,"t":2.82e4,"v":0.45},{"s":24,"t":3.98e4,"v":0.6},{"s":24,"t":5.62e4,"v":0.75},{"s":24,"t":7.94e4,"v":0.5},{"s":24,"t":1.12e5,"v":0.35},{"s":24,"t":1.58e5,"v":0.5},{"s":24,"t":2.24e5,"v":0.25},{"s":24,"t":3.16e5,"v":0.3},{"s":24,"t":4.47e5,"v":0.12},{"s":24,"t":6.31e5,"v":0.2},{"s":24,"t":8.91e5,"v":0.08},{"s":24,"t":1.26e6,"v":0.15},{"s":24,"t":1.78e6,"v":0.05},{"s":24,"t":2.51e6,"v":0.1},{"s":24,"t":3.55e6,"v":0.2},{"s":24,"t":5.01e6,"v":0.06},{"s":24,"t":7.08e6,"v":0.12},{"s":24,"t":1e7,"v":0.03},{"s":24,"t":1.41e7,"v":0.07},{"s":24,"t":2e7,"v":0.15},{"s":24,"t":2.82e7,"v":0.05},{"s":24,"t":3.98e7,"v":0.1},{"s":24,"t":5.62e7,"v":0.2},{"s":24,"t":7.94e7,"v":0.06},{"s":24,"t":1e8,"v":0.1},
{"s":25,"t":10,"v":0.76},{"s":25,"t":32,"v":0.59},{"s":25,"t":65,"v":1.24},{"s":25,"t":100,"v":0.49},{"s":25,"t":129,"v":1.14},{"s":25,"t":182,"v":0.5},{"s":25,"t":257,"v":0.97},{"s":25,"t":347,"v":0.55},{"s":25,"t":468,"v":0.97},{"s":25,"t":575,"v":0.52},{"s":25,"t":724,"v":1.13},{"s":25,"t":1000,"v":0.59},{"s":25,"t":1778,"v":0.8},{"s":25,"t":3162,"v":0.6},{"s":25,"t":5623,"v":0.7},{"s":25,"t":1e4,"v":0.9},{"s":25,"t":1.41e4,"v":0.75},{"s":25,"t":2e4,"v":0.9},{"s":25,"t":2.82e4,"v":0.65},{"s":25,"t":3.98e4,"v":0.85},{"s":25,"t":5.62e4,"v":0.7},{"s":25,"t":7.94e4,"v":0.6},{"s":25,"t":1.12e5,"v":0.45},{"s":25,"t":1.58e5,"v":0.55},{"s":25,"t":2.24e5,"v":0.35},{"s":25,"t":3.16e5,"v":0.2},{"s":25,"t":4.47e5,"v":0.3},{"s":25,"t":6.31e5,"v":0.15},{"s":25,"t":8.91e5,"v":0.4},{"s":25,"t":1.26e6,"v":0.12},{"s":25,"t":1.78e6,"v":0.25},{"s":25,"t":2.51e6,"v":0.8},{"s":25,"t":3.55e6,"v":0.3},{"s":25,"t":5.01e6,"v":0.15},{"s":25,"t":7.08e6,"v":0.4},{"s":25,"t":1e7,"v":0.1},{"s":25,"t":1.41e7,"v":0.25},{"s":25,"t":2e7,"v":0.5},{"s":25,"t":2.82e7,"v":0.12},{"s":25,"t":3.98e7,"v":0.3},{"s":25,"t":5.62e7,"v":0.08},{"s":25,"t":7.94e7,"v":0.2},{"s":25,"t":1e8,"v":0.1},
{"s":26,"t":10,"v":0.9},{"s":26,"t":32,"v":0.77},{"s":26,"t":65,"v":1.31},{"s":26,"t":100,"v":0.61},{"s":26,"t":129,"v":1.21},{"s":26,"t":182,"v":0.63},{"s":26,"t":257,"v":1.07},{"s":26,"t":347,"v":0.68},{"s":26,"t":468,"v":1.07},{"s":26,"t":575,"v":0.65},{"s":26,"t":724,"v":1.21},{"s":26,"t":1000,"v":0.72},{"s":26,"t":1778,"v":1.05},{"s":26,"t":3162,"v":0.9},{"s":26,"t":5623,"v":1.15},{"s":26,"t":1e4,"v":0.95},{"s":26,"t":1.41e4,"v":1.1},{"s":26,"t":2e4,"v":0.95},{"s":26,"t":2.82e4,"v":1.2},{"s":26,"t":3.98e4,"v":1.0},{"s":26,"t":5.62e4,"v":1.1},{"s":26,"t":7.94e4,"v":0.85},{"s":26,"t":1.12e5,"v":0.9},{"s":26,"t":1.58e5,"v":0.75},{"s":26,"t":2.24e5,"v":1.0},{"s":26,"t":3.16e5,"v":0.8},{"s":26,"t":4.47e5,"v":0.95},{"s":26,"t":6.31e5,"v":0.7},{"s":26,"t":8.91e5,"v":0.85},{"s":26,"t":1.26e6,"v":1.0},{"s":26,"t":1.78e6,"v":0.9},{"s":26,"t":2.51e6,"v":1.1},{"s":26,"t":3.55e6,"v":0.95},{"s":26,"t":5.01e6,"v":0.9},{"s":26,"t":7.08e6,"v":0.6},{"s":26,"t":1e7,"v":0.75},{"s":26,"t":1.41e7,"v":1.05},{"s":26,"t":2e7,"v":1.1},{"s":26,"t":2.82e7,"v":0.7},{"s":26,"t":3.98e7,"v":0.55},{"s":26,"t":5.62e7,"v":0.95},{"s":26,"t":7.94e7,"v":1.15},{"s":26,"t":1e8,"v":0.6},
{"s":27,"t":10,"v":0.68},{"s":27,"t":32,"v":0.5},{"s":27,"t":65,"v":1.21},{"s":27,"t":100,"v":0.43},{"s":27,"t":129,"v":1.12},{"s":27,"t":182,"v":0.45},{"s":27,"t":257,"v":0.94},{"s":27,"t":347,"v":0.5},{"s":27,"t":468,"v":0.93},{"s":27,"t":575,"v":0.47},{"s":27,"t":724,"v":1.09},{"s":27,"t":1000,"v":0.52},{"s":27,"t":1778,"v":0.65},{"s":27,"t":3162,"v":0.8},{"s":27,"t":5623,"v":0.55},{"s":27,"t":1e4,"v":0.75},{"s":27,"t":1.41e4,"v":0.85},{"s":27,"t":2e4,"v":0.6},{"s":27,"t":2.82e4,"v":0.8},{"s":27,"t":3.98e4,"v":0.65},{"s":27,"t":5.62e4,"v":0.9},{"s":27,"t":7.94e4,"v":0.55},{"s":27,"t":1.12e5,"v":0.6},{"s":27,"t":1.58e5,"v":0.3},{"s":27,"t":2.24e5,"v":0.45},{"s":27,"t":3.16e5,"v":0.2},{"s":27,"t":4.47e5,"v":0.12},{"s":27,"t":6.31e5,"v":0.2},{"s":27,"t":8.91e5,"v":0.07},{"s":27,"t":1.26e6,"v":0.12},{"s":27,"t":1.78e6,"v":0.05},{"s":27,"t":2.51e6,"v":0.09},{"s":27,"t":3.55e6,"v":0.04},{"s":27,"t":5.01e6,"v":0.07},{"s":27,"t":7.08e6,"v":0.03},{"s":27,"t":1e7,"v":0.05},{"s":27,"t":1.41e7,"v":0.02},{"s":27,"t":2e7,"v":0.04},{"s":27,"t":2.82e7,"v":0.07},{"s":27,"t":3.98e7,"v":0.03},{"s":27,"t":5.62e7,"v":0.05},{"s":27,"t":7.94e7,"v":0.02},{"s":27,"t":1e8,"v":0.04},
{"s":28,"t":10,"v":0.47},{"s":28,"t":32,"v":0.25},{"s":28,"t":65,"v":1.14},{"s":28,"t":100,"v":0.28},{"s":28,"t":129,"v":1.05},{"s":28,"t":182,"v":0.3},{"s":28,"t":257,"v":0.87},{"s":28,"t":347,"v":0.33},{"s":28,"t":468,"v":0.85},{"s":28,"t":575,"v":0.32},{"s":28,"t":724,"v":1.02},{"s":28,"t":1000,"v":0.34},{"s":28,"t":1778,"v":0.3},{"s":28,"t":3162,"v":0.45},{"s":28,"t":5623,"v":0.4},{"s":28,"t":1e4,"v":0.55},{"s":28,"t":1.41e4,"v":0.45},{"s":28,"t":2e4,"v":0.6},{"s":28,"t":2.82e4,"v":0.5},{"s":28,"t":3.98e4,"v":0.35},{"s":28,"t":5.62e4,"v":0.65},{"s":28,"t":7.94e4,"v":0.45},{"s":28,"t":1.12e5,"v":0.3},{"s":28,"t":1.58e5,"v":0.4},{"s":28,"t":2.24e5,"v":0.2},{"s":28,"t":3.16e5,"v":0.12},{"s":28,"t":4.47e5,"v":0.2},{"s":28,"t":6.31e5,"v":0.06},{"s":28,"t":8.91e5,"v":0.1},{"s":28,"t":1.26e6,"v":0.04},{"s":28,"t":1.78e6,"v":0.08},{"s":28,"t":2.51e6,"v":0.03},{"s":28,"t":3.55e6,"v":0.06},{"s":28,"t":5.01e6,"v":0.02},{"s":28,"t":7.08e6,"v":0.05},{"s":28,"t":1e7,"v":0.1},{"s":28,"t":1.41e7,"v":0.03},{"s":28,"t":2e7,"v":0.06},{"s":28,"t":2.82e7,"v":0.02},{"s":28,"t":3.98e7,"v":0.05},{"s":28,"t":5.62e7,"v":0.09},{"s":28,"t":7.94e7,"v":0.03},{"s":28,"t":1e8,"v":0.05},
{"s":29,"t":10,"v":1.1},{"s":29,"t":32,"v":0.94},{"s":29,"t":65,"v":1.39},{"s":29,"t":100,"v":0.75},{"s":29,"t":129,"v":1.29},{"s":29,"t":182,"v":0.77},{"s":29,"t":257,"v":1.13},{"s":29,"t":347,"v":0.83},{"s":29,"t":468,"v":1.13},{"s":29,"t":575,"v":0.79},{"s":29,"t":724,"v":1.29},{"s":29,"t":1000,"v":0.88},{"s":29,"t":1778,"v":0.95},{"s":29,"t":3162,"v":0.75},{"s":29,"t":5623,"v":1.05},{"s":29,"t":1e4,"v":0.85},{"s":29,"t":1.41e4,"v":0.9},{"s":29,"t":2e4,"v":1.05},{"s":29,"t":2.82e4,"v":0.8},{"s":29,"t":3.98e4,"v":0.95},{"s":29,"t":5.62e4,"v":0.7},{"s":29,"t":7.94e4,"v":0.85},{"s":29,"t":1.12e5,"v":0.55},{"s":29,"t":1.58e5,"v":0.65},{"s":29,"t":2.24e5,"v":0.4},{"s":29,"t":3.16e5,"v":0.25},{"s":29,"t":4.47e5,"v":0.35},{"s":29,"t":6.31e5,"v":0.15},{"s":29,"t":8.91e5,"v":0.25},{"s":29,"t":1.26e6,"v":0.1},{"s":29,"t":1.78e6,"v":0.18},{"s":29,"t":2.51e6,"v":0.07},{"s":29,"t":3.55e6,"v":0.12},{"s":29,"t":5.01e6,"v":0.2},{"s":29,"t":7.08e6,"v":0.06},{"s":29,"t":1e7,"v":0.1},{"s":29,"t":1.41e7,"v":0.15},{"s":29,"t":2e7,"v":0.05},{"s":29,"t":2.82e7,"v":0.09},{"s":29,"t":3.98e7,"v":0.15},{"s":29,"t":5.62e7,"v":0.04},{"s":29,"t":7.94e7,"v":0.08},{"s":29,"t":1e8,"v":0.02},
{"s":30,"t":10,"v":0.66},{"s":30,"t":32,"v":0.4},{"s":30,"t":65,"v":1.24},{"s":30,"t":100,"v":0.4},{"s":30,"t":129,"v":1.13},{"s":30,"t":182,"v":0.42},{"s":30,"t":257,"v":0.95},{"s":30,"t":347,"v":0.47},{"s":30,"t":468,"v":0.93},{"s":30,"t":575,"v":0.44},{"s":30,"t":724,"v":1.1},{"s":30,"t":1000,"v":0.48},{"s":30,"t":1778,"v":0.5},{"s":30,"t":3162,"v":0.6},{"s":30,"t":5623,"v":0.75},{"s":30,"t":1e4,"v":0.55},{"s":30,"t":1.41e4,"v":0.7},{"s":30,"t":2e4,"v":0.5},{"s":30,"t":2.82e4,"v":0.6},{"s":30,"t":3.98e4,"v":0.85},{"s":30,"t":5.62e4,"v":0.5},{"s":30,"t":7.94e4,"v":0.7},{"s":30,"t":1.12e5,"v":0.4},{"s":30,"t":1.58e5,"v":0.5},{"s":30,"t":2.24e5,"v":0.2},{"s":30,"t":3.16e5,"v":0.3},{"s":30,"t":4.47e5,"v":0.1},{"s":30,"t":6.31e5,"v":0.18},{"s":30,"t":8.91e5,"v":0.3},{"s":30,"t":1.26e6,"v":0.12},{"s":30,"t":1.78e6,"v":0.2},{"s":30,"t":2.51e6,"v":0.08},{"s":30,"t":3.55e6,"v":0.15},{"s":30,"t":5.01e6,"v":0.25},{"s":30,"t":7.08e6,"v":0.1},{"s":30,"t":1e7,"v":0.18},{"s":30,"t":1.41e7,"v":0.06},{"s":30,"t":2e7,"v":0.12},{"s":30,"t":2.82e7,"v":0.2},{"s":30,"t":3.98e7,"v":0.08},{"s":30,"t":5.62e7,"v":0.15},{"s":30,"t":7.94e7,"v":0.25},{"s":30,"t":1e8,"v":0.3},
{"s":31,"t":10,"v":0.92},{"s":31,"t":32,"v":0.72},{"s":31,"t":65,"v":1.32},{"s":31,"t":100,"v":0.59},{"s":31,"t":129,"v":1.22},{"s":31,"t":182,"v":0.62},{"s":31,"t":257,"v":1.03},{"s":31,"t":347,"v":0.67},{"s":31,"t":468,"v":1.03},{"s":31,"t":575,"v":0.64},{"s":31,"t":724,"v":1.19},{"s":31,"t":1000,"v":0.72},{"s":31,"t":1778,"v":0.7},{"s":31,"t":3162,"v":0.55},{"s":31,"t":5623,"v":0.85},{"s":31,"t":1e4,"v":0.65},{"s":31,"t":1.41e4,"v":0.6},{"s":31,"t":2e4,"v":0.8},{"s":31,"t":2.82e4,"v":0.55},{"s":31,"t":3.98e4,"v":0.7},{"s":31,"t":5.62e4,"v":0.5},{"s":31,"t":7.94e4,"v":0.75},{"s":31,"t":1.12e5,"v":0.3},{"s":31,"t":1.58e5,"v":0.45},{"s":31,"t":2.24e5,"v":0.15},{"s":31,"t":3.16e5,"v":0.25},{"s":31,"t":4.47e5,"v":0.1},{"s":31,"t":6.31e5,"v":0.15},{"s":31,"t":8.91e5,"v":0.05},{"s":31,"t":1.26e6,"v":0.1},{"s":31,"t":1.78e6,"v":0.2},{"s":31,"t":2.51e6,"v":0.06},{"s":31,"t":3.55e6,"v":0.12},{"s":31,"t":5.01e6,"v":0.04},{"s":31,"t":7.08e6,"v":0.09},{"s":31,"t":1e7,"v":0.2},{"s":31,"t":1.41e7,"v":0.05},{"s":31,"t":2e7,"v":0.1},{"s":31,"t":2.82e7,"v":0.04},{"s":31,"t":3.98e7,"v":0.08},{"s":31,"t":5.62e7,"v":0.15},{"s":31,"t":7.94e7,"v":0.05},{"s":31,"t":1e8,"v":0.2},
{"s":32,"t":10,"v":0.75},{"s":32,"t":32,"v":0.5},{"s":32,"t":65,"v":1.26},{"s":32,"t":100,"v":0.46},{"s":32,"t":129,"v":1.15},{"s":32,"t":182,"v":0.48},{"s":32,"t":257,"v":0.97},{"s":32,"t":347,"v":0.54},{"s":32,"t":468,"v":0.96},{"s":32,"t":575,"v":0.51},{"s":32,"t":724,"v":1.13},{"s":32,"t":1000,"v":0.56},{"s":32,"t":1778,"v":0.45},{"s":32,"t":3162,"v":0.6},{"s":32,"t":5623,"v":0.35},{"s":32,"t":1e4,"v":0.5},{"s":32,"t":1.41e4,"v":0.4},{"s":32,"t":2e4,"v":0.55},{"s":32,"t":2.82e4,"v":0.75},{"s":32,"t":3.98e4,"v":0.5},{"s":32,"t":5.62e4,"v":0.65},{"s":32,"t":7.94e4,"v":0.45},{"s":32,"t":1.12e5,"v":0.35},{"s":32,"t":1.58e5,"v":0.2},{"s":32,"t":2.24e5,"v":0.3},{"s":32,"t":3.16e5,"v":0.1},{"s":32,"t":4.47e5,"v":0.2},{"s":32,"t":6.31e5,"v":0.3},{"s":32,"t":8.91e5,"v":0.12},{"s":32,"t":1.26e6,"v":0.25},{"s":32,"t":1.78e6,"v":0.5},{"s":32,"t":2.51e6,"v":0.15},{"s":32,"t":3.55e6,"v":0.3},{"s":32,"t":5.01e6,"v":0.1},{"s":32,"t":7.08e6,"v":0.25},{"s":32,"t":1e7,"v":0.05},{"s":32,"t":1.41e7,"v":0.15},{"s":32,"t":2e7,"v":0.3},{"s":32,"t":2.82e7,"v":0.08},{"s":32,"t":3.98e7,"v":0.2},{"s":32,"t":5.62e7,"v":0.1},{"s":32,"t":7.94e7,"v":0.35},{"s":32,"t":1e8,"v":0.15},
{"s":33,"t":10,"v":0.84},{"s":33,"t":32,"v":0.61},{"s":33,"t":65,"v":1.29},{"s":33,"t":100,"v":0.53},{"s":33,"t":129,"v":1.18},{"s":33,"t":182,"v":0.55},{"s":33,"t":257,"v":1.0},{"s":33,"t":347,"v":0.61},{"s":33,"t":468,"v":0.99},{"s":33,"t":575,"v":0.57},{"s":33,"t":724,"v":1.15},{"s":33,"t":1000,"v":0.64},{"s":33,"t":1778,"v":0.6},{"s":33,"t":3162,"v":0.8},{"s":33,"t":5623,"v":0.7},{"s":33,"t":1e4,"v":0.5},{"s":33,"t":1.41e4,"v":0.75},{"s":33,"t":2e4,"v":0.55},{"s":33,"t":2.82e4,"v":0.9},{"s":33,"t":3.98e4,"v":0.65},{"s":33,"t":5.62e4,"v":0.8},{"s":33,"t":7.94e4,"v":0.6},{"s":33,"t":1.12e5,"v":0.7},{"s":33,"t":1.58e5,"v":0.4},{"s":33,"t":2.24e5,"v":0.55},{"s":33,"t":3.16e5,"v":0.3},{"s":33,"t":4.47e5,"v":0.2},{"s":33,"t":6.31e5,"v":0.35},{"s":33,"t":8.91e5,"v":0.15},{"s":33,"t":1.26e6,"v":0.25},{"s":33,"t":1.78e6,"v":0.1},{"s":33,"t":2.51e6,"v":0.2},{"s":33,"t":3.55e6,"v":0.08},{"s":33,"t":5.01e6,"v":0.15},{"s":33,"t":7.08e6,"v":0.3},{"s":33,"t":1e7,"v":0.1},{"s":33,"t":1.41e7,"v":0.2},{"s":33,"t":2e7,"v":0.06},{"s":33,"t":2.82e7,"v":0.12},{"s":33,"t":3.98e7,"v":0.25},{"s":33,"t":5.62e7,"v":0.1},{"s":33,"t":7.94e7,"v":0.05},{"s":33,"t":1e8,"v":0.12}
  ]},
  "resolve": {"axis": {"x": "independent", "y": "independent"}},
  "layer": [
    {
      "mark": {"type": "line", "strokeWidth": 1, "clip": true},
      "encoding": {
        "x": {"field": "t", "type": "quantitative",
          "scale": {"type": "log", "domain": [10, 100000000], "nice": false},
          "axis": {"orient": "bottom", "values": [10, 10000, 100000000], "ticks": false, "domain": true,
            "labelExpr": "datum.value < 100 ? '10¹' : datum.value < 1000000 ? '10⁴' : '10⁸'",
            "labelFont": "Liberation Sans", "labelFontSize": 21, "labelColor": "#262626",
            "labelBaseline": "alphabetic", "labelPadding": 39, "labelFlush": false, "labelOverlap": false,
            "title": "Time", "titleFont": "Liberation Serif", "titleFontSize": 25, "titleFontWeight": "normal",
            "titleColor": "#262626", "titlePadding": 2}},
        "y": {"field": "v", "type": "quantitative",
          "scale": {"type": "log", "domain": [1e-16, 10], "nice": false},
          "axis": {"orient": "left", "values": [1, 0.00001, 1e-10, 1e-15], "ticks": false, "domain": true,
            "labelExpr": "datum.value > 0.5 ? '10⁰' : datum.value > 5e-8 ? '10⁻⁵' : datum.value > 5e-13 ? '10⁻¹⁰' : '10⁻¹⁵'",
            "labelFont": "Liberation Sans", "labelFontSize": 21, "labelColor": "#262626",
            "labelPadding": 8, "labelOffset": 5, "labelFlush": false, "labelOverlap": false,
            "title": "SALI", "titleFont": "Liberation Serif", "titleFontSize": 25, "titleFontWeight": "normal",
            "titleColor": "#262626", "titlePadding": 17}},
        "color": {"field": "s", "type": "nominal", "legend": null,
          "scale": {"range": ["#0072BD", "#D95319", "#EDB120", "#7E2F8E", "#77AC30", "#4DBEEE", "#A2142F"]}}
      }
    },
    {
      "transform": [{"filter": "datum.s == 1"}],
      "mark": {"type": "point", "opacity": 0},
      "encoding": {
        "x": {"field": "t", "type": "quantitative", "scale": {"type": "log", "domain": [10, 100000000], "nice": false},
          "axis": {"orient": "bottom", "values": [10, 10000, 100000000], "labels": false, "tickSize": -6, "domain": false, "title": null}},
        "y": {"field": "v", "type": "quantitative", "scale": {"type": "log", "domain": [1e-16, 10], "nice": false},
          "axis": {"orient": "left", "values": [1, 0.00001, 1e-10, 1e-15], "labels": false, "tickSize": -6, "domain": false, "title": null}}
      }
    },
    {
      "transform": [{"filter": "datum.s == 1"}],
      "mark": {"type": "point", "opacity": 0},
      "encoding": {
        "x": {"field": "t", "type": "quantitative", "scale": {"type": "log", "domain": [10, 100000000], "nice": false},
          "axis": {"orient": "bottom", "values": [100, 1000, 100000, 1000000, 10000000], "labels": false, "tickSize": -3.5, "domain": false, "title": null}},
        "y": {"field": "v", "type": "quantitative", "scale": {"type": "log", "domain": [1e-16, 10], "nice": false},
          "axis": {"orient": "left", "values": [10, 0.1, 0.01, 0.001, 0.0001, 1e-6, 1e-7, 1e-8, 1e-9, 1e-11, 1e-12, 1e-13, 1e-14, 1e-16], "labels": false, "tickSize": -3.5, "domain": false, "title": null}}
      }
    },
    {
      "transform": [{"filter": "datum.s == 1"}],
      "mark": {"type": "point", "opacity": 0},
      "encoding": {
        "x": {"field": "t", "type": "quantitative", "scale": {"type": "log", "domain": [10, 100000000], "nice": false},
          "axis": {"orient": "top", "values": [10, 10000, 100000000], "labels": false, "tickSize": -6, "domain": true, "title": null}},
        "y": {"field": "v", "type": "quantitative", "scale": {"type": "log", "domain": [1e-16, 10], "nice": false},
          "axis": {"orient": "right", "values": [1, 0.00001, 1e-10, 1e-15], "labels": false, "tickSize": -6, "domain": true, "title": null}}
      }
    },
    {
      "transform": [{"filter": "datum.s == 1"}],
      "mark": {"type": "point", "opacity": 0},
      "encoding": {
        "x": {"field": "t", "type": "quantitative", "scale": {"type": "log", "domain": [10, 100000000], "nice": false},
          "axis": {"orient": "top", "values": [100, 1000, 100000, 1000000, 10000000], "labels": false, "tickSize": -3.5, "domain": false, "title": null}},
        "y": {"field": "v", "type": "quantitative", "scale": {"type": "log", "domain": [1e-16, 10], "nice": false},
          "axis": {"orient": "right", "values": [10, 0.1, 0.01, 0.001, 0.0001, 1e-6, 1e-7, 1e-8, 1e-9, 1e-11, 1e-12, 1e-13, 1e-14, 1e-16], "labels": false, "tickSize": -3.5, "domain": false, "title": null}}
      }
    }
  ]
}
